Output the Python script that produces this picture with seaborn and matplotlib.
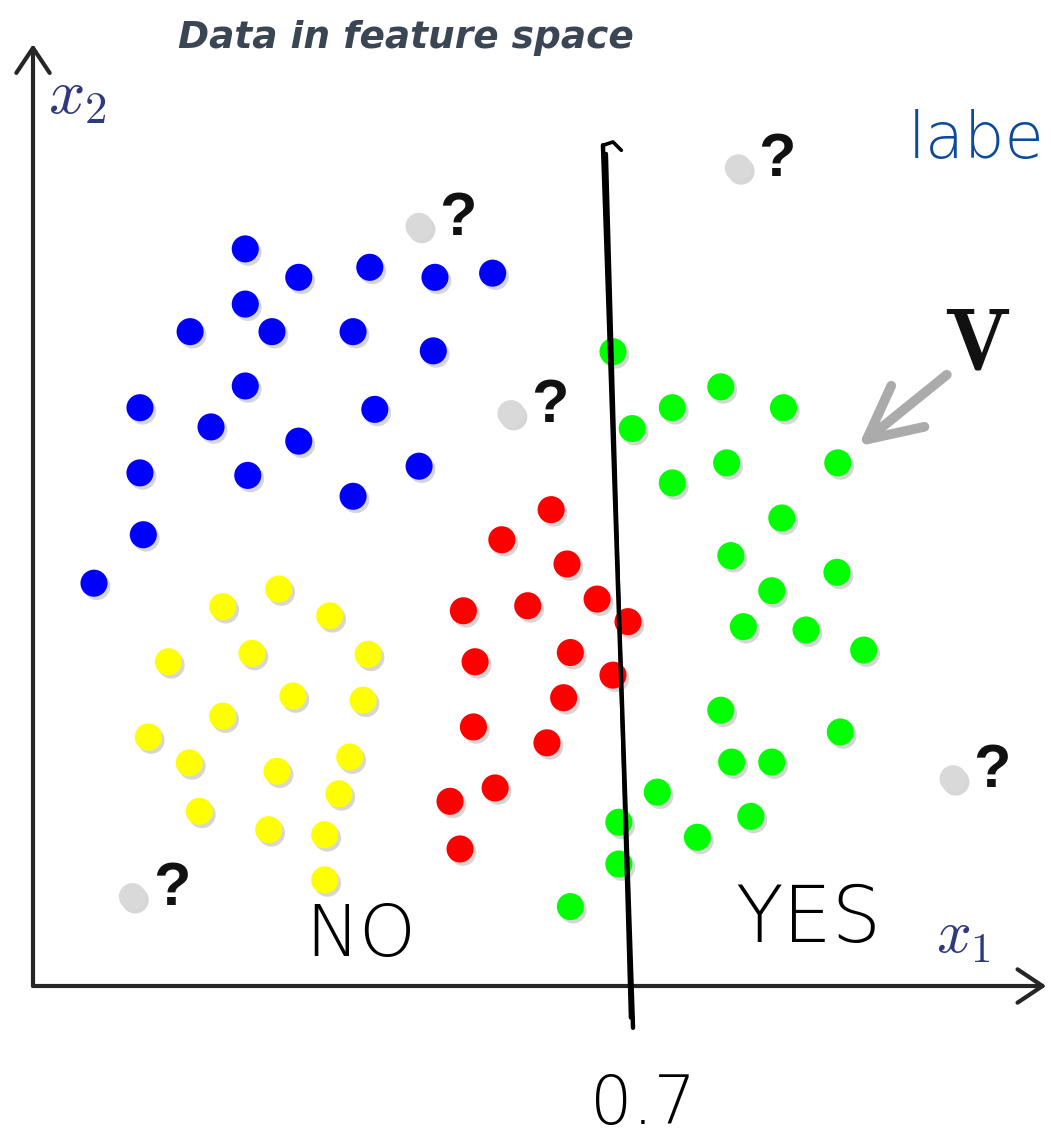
import numpy as np
import pandas as pd
import matplotlib
matplotlib.use("Agg")
import matplotlib.pyplot as plt
import matplotlib.patheffects as pe
import seaborn as sns

# ---- samples in feature space (x1, x2) ----
blue_x = [0.254, 0.318, 0.403, 0.481, 0.550, 0.254, 0.188, 0.286, 0.383, 0.479, 0.254,
          0.128, 0.213, 0.318, 0.409, 0.128, 0.257, 0.383, 0.462, 0.132, 0.073]
blue_y = [0.882, 0.848, 0.860, 0.848, 0.853, 0.816, 0.783, 0.783, 0.783, 0.760, 0.718,
          0.692, 0.669, 0.652, 0.690, 0.614, 0.611, 0.586, 0.622, 0.540, 0.482]

yellow_x = [0.227, 0.294, 0.355, 0.162, 0.262, 0.401, 0.311, 0.395, 0.227, 0.138, 0.187,
            0.292, 0.379, 0.199, 0.366, 0.282, 0.349, 0.349]
yellow_y = [0.454, 0.475, 0.443, 0.388, 0.398, 0.397, 0.347, 0.342, 0.323, 0.298, 0.267,
            0.257, 0.274, 0.209, 0.230, 0.187, 0.181, 0.127]

red_x = [0.620, 0.561, 0.639, 0.515, 0.592, 0.675, 0.712, 0.529, 0.643, 0.694, 0.635,
         0.527, 0.615, 0.553, 0.499, 0.511]
red_y = [0.570, 0.534, 0.505, 0.449, 0.455, 0.463, 0.436, 0.388, 0.399, 0.372, 0.345,
         0.310, 0.291, 0.237, 0.221, 0.164]

green_x = [0.694, 0.823, 0.765, 0.898, 0.717, 0.830, 0.963, 0.765, 0.896, 0.835, 0.962,
           0.884, 0.850, 0.925, 0.994, 0.823, 0.966, 0.836, 0.884, 0.747, 0.701, 0.859,
           0.795, 0.701, 0.643]
green_y = [0.759, 0.717, 0.692, 0.692, 0.667, 0.626, 0.626, 0.602, 0.560, 0.515, 0.495,
           0.473, 0.430, 0.426, 0.402, 0.330, 0.304, 0.268, 0.268, 0.232, 0.196, 0.203,
           0.178, 0.146, 0.095]

# unlabeled samples, marked with "?"
unknown_x = [0.462, 0.572, 0.844, 1.101, 0.119]
unknown_y = [0.909, 0.685, 0.979, 0.248, 0.107]

# decision threshold on x1
threshold = 0.7

# index of the green sample the "V" arrow points at
v_index = 6

classes = ["blue", "yellow", "red", "green", "unknown"]
frames = [
    pd.DataFrame({"x1": xs, "x2": ys, "cls": name})
    for name, xs, ys in zip(
        classes,
        [blue_x, yellow_x, red_x, green_x, unknown_x],
        [blue_y, yellow_y, red_y, green_y, unknown_y],
    )
]
df = pd.concat(frames, ignore_index=True)

palette = {"blue": "#0000ff", "yellow": "#ffff00", "red": "#ff0000",
           "green": "#00ff00", "unknown": "#d9d9d9"}

sns.set_theme(style="white")
plt.rcParams["mathtext.fontset"] = "cm"
plt.rcParams["font.family"] = ["DejaVu Sans"]

W, H = 1051, 1141
fig = plt.figure(figsize=(W / 100, H / 100), dpi=100)
ax = fig.add_axes([0, 0, 1, 1])
ax.axis("off")

# one data unit spans this many pixels; origin sits near the lower left
unit = 835.7
ox, oy = 33, 986
ax.set_xlim(-ox / unit, (W - ox) / unit)
ax.set_ylim((oy - H) / unit, oy / unit)


def fig_xy(px, py):
    return px / W, 1 - py / H


# dots with a soft drop shadow
sns.scatterplot(data=df, x="x1", y="x2", hue="cls", palette=palette,
                s=380, linewidth=0, legend=False, ax=ax, zorder=3)
ax.collections[-1].set_path_effects([
    pe.SimplePatchShadow(offset=(2.0, -2.4), shadow_rgbFace="#8a8a8a", alpha=0.35),
    pe.Normal(),
])

# question marks next to the unlabeled samples
for ux, uy in zip(unknown_x, unknown_y):
    ax.annotate("?", xy=(ux, uy), xytext=(28, -6), textcoords="offset points",
                ha="center", va="baseline", fontsize=44, fontweight="bold",
                family=["Liberation Sans", "DejaVu Sans"], color="#111111", zorder=4)

# axes drawn as arrows
axis_kw = dict(arrowstyle="->,head_length=0.9,head_width=0.6", lw=3,
               color="#262626", mutation_scale=20, shrinkA=0, shrinkB=0)
ax.annotate("", xy=(1.2125, 0), xytext=(0, 0), arrowprops=axis_kw, zorder=2)
ax.annotate("", xy=(0, 1.127), xytext=(0, 0), arrowprops=axis_kw, zorder=2)

fig.text(*fig_xy(48, 113), r"$x_2$", fontsize=46, color="#2f3a7e",
         ha="left", va="baseline")
fig.text(*fig_xy(936, 953), r"$x_1$", fontsize=44, color="#2f3a7e",
         ha="left", va="baseline")

# title
fig.text(*fig_xy(406, 48), "Data in feature space", ha="center", va="baseline",
         fontsize=27, fontweight="bold", fontstyle="italic", color="#3b4654")

# "V" label with grey arrow to one sample
vx, vy = green_x[v_index], green_y[v_index]
ax.annotate("", xy=(vx, vy), xytext=(78.5, 63.4), textcoords="offset points",
            arrowprops=dict(arrowstyle="->,head_length=1.9,head_width=0.95",
                            lw=7, color="#ababab", mutation_scale=20,
                            shrinkA=0, shrinkB=19, capstyle="round"), zorder=4)
ax.annotate(r"$\mathbf{V}$", xy=(vx, vy), xytext=(100, 67), textcoords="offset points",
            ha="center", va="baseline", fontsize=63, color="#111111", zorder=4)

# hand-drawn decision boundary at x1 = threshold
skew = 0.018
top, bottom = 1.006, -0.050
ax.plot([threshold - skew, threshold + skew], [top, bottom],
        color="black", lw=3.2, solid_capstyle="round", zorder=5)
ax.plot([threshold - skew + 0.004, threshold + skew - 0.003], [top - 0.01, bottom + 0.012],
        color="black", lw=2.6, solid_capstyle="round", zorder=5)
ax.plot([threshold - skew, threshold - skew + 0.012, threshold - skew + 0.022],
        [top, top + 0.004, top - 0.006], color="black", lw=2.6,
        solid_capstyle="round", zorder=5)

hand = dict(family=["DejaVu Sans"], fontweight="light", color="black")
ax.text(threshold + 0.03, (oy - 1124) / unit, f"{threshold:g}", ha="center",
        va="baseline", fontsize=48, **hand)
fig.text(*fig_xy(305, 956), "NO", ha="left", va="baseline", fontsize=52, **hand)
fig.text(*fig_xy(735, 942), "YES", ha="left", va="baseline", fontsize=56, **hand)
fig.text(*fig_xy(908, 158), "labe", ha="left", va="baseline", fontsize=46,
         family=["DejaVu Sans"], fontweight="light", color="#0d4a9b")

fig.savefig("out.png", dpi=100, facecolor="white")
